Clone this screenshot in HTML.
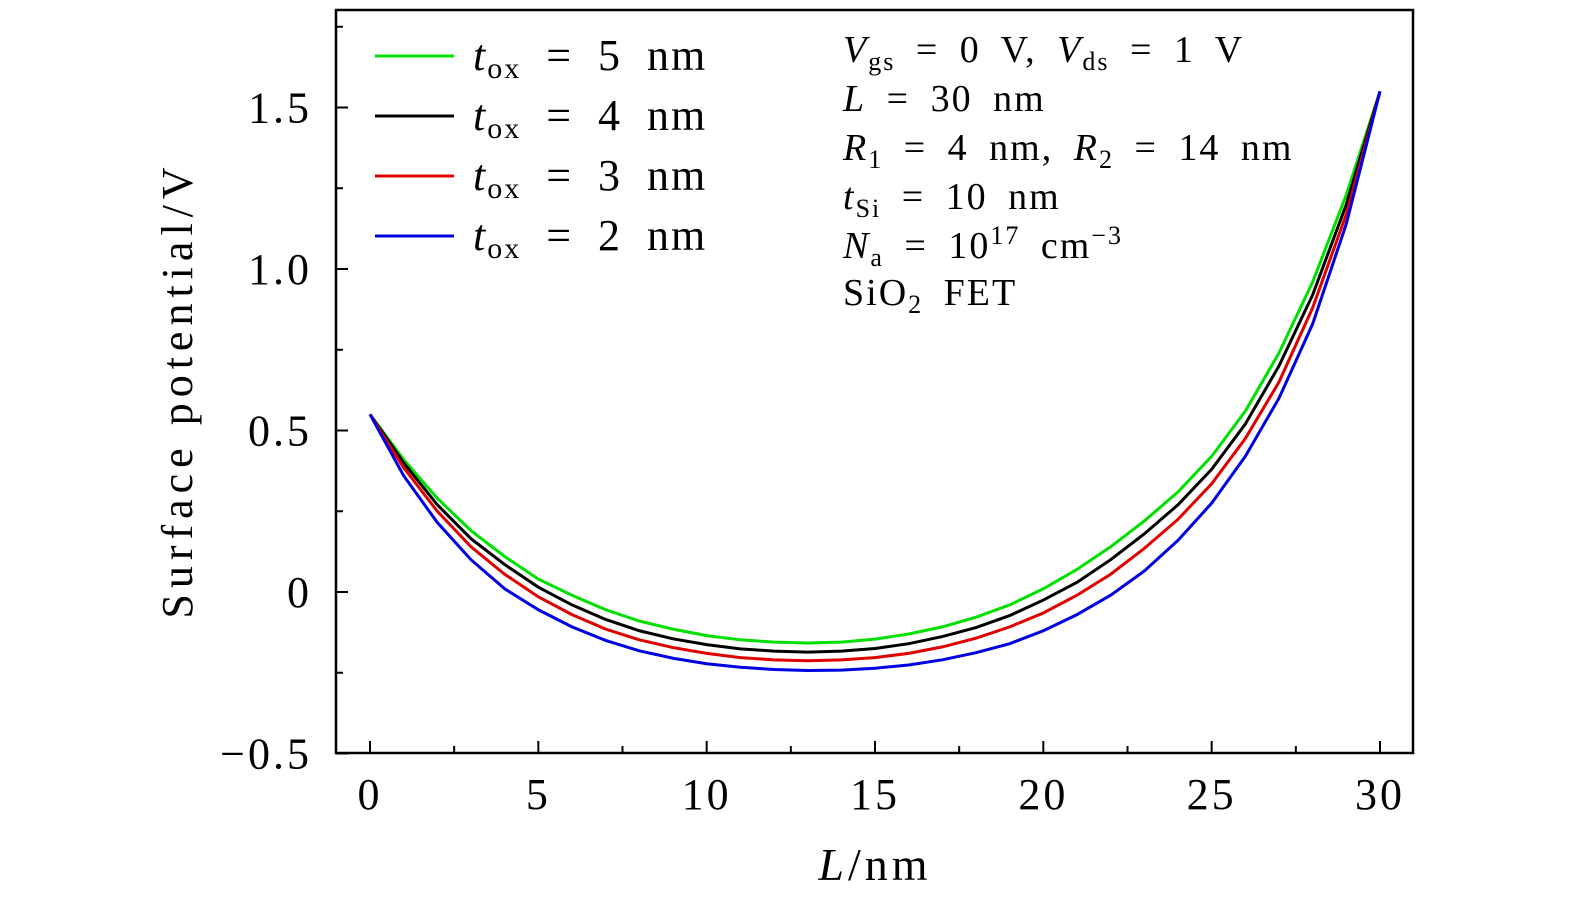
<!DOCTYPE html>
<html><head><meta charset="utf-8"><style>
body{margin:0;background:#fff}
svg text{font-family:"Liberation Serif",serif;fill:#000}
</style></head><body>
<svg id="chart" width="1575" height="906" xmlns="http://www.w3.org/2000/svg">
<g id="marks"></g>
<rect x="336" y="10" width="1077" height="743" fill="none" stroke="#000" stroke-width="2.5"/>
<g id="ticks"></g>
<text transform="translate(192,390) rotate(-90)" text-anchor="middle" font-size="44" letter-spacing="6">Surface potential/V</text>
<text x="875" y="880" text-anchor="middle" font-size="46" letter-spacing="4"><tspan font-style="italic">L</tspan>/nm</text>
<g font-size="44" word-spacing="12" letter-spacing="2">
<line x1="375" y1="56" x2="454" y2="56" stroke="#00e000" stroke-width="3"/>
<text x="473" y="70"><tspan font-style="italic">t</tspan><tspan font-size="30" dy="8">ox</tspan><tspan dy="-8"> = 5 nm</tspan></text>
<line x1="375" y1="116" x2="454" y2="116" stroke="#000" stroke-width="3"/>
<text x="473" y="130"><tspan font-style="italic">t</tspan><tspan font-size="30" dy="8">ox</tspan><tspan dy="-8"> = 4 nm</tspan></text>
<line x1="375" y1="176" x2="454" y2="176" stroke="#e00000" stroke-width="3"/>
<text x="473" y="190"><tspan font-style="italic">t</tspan><tspan font-size="30" dy="8">ox</tspan><tspan dy="-8"> = 3 nm</tspan></text>
<line x1="375" y1="236" x2="454" y2="236" stroke="#0000e0" stroke-width="3"/>
<text x="473" y="250"><tspan font-style="italic">t</tspan><tspan font-size="30" dy="8">ox</tspan><tspan dy="-8"> = 2 nm</tspan></text>
</g>
<g font-size="38" word-spacing="9" letter-spacing="2">
<text x="843" y="62"><tspan font-style="italic">V</tspan><tspan font-size="26" dy="8">gs</tspan><tspan dy="-8"> = 0 V, </tspan><tspan font-style="italic">V</tspan><tspan font-size="26" dy="8">ds</tspan><tspan dy="-8"> = 1 V</tspan></text>
<text x="843" y="111"><tspan font-style="italic">L</tspan> = 30 nm</text>
<text x="843" y="160"><tspan font-style="italic">R</tspan><tspan font-size="26" dy="8">1</tspan><tspan dy="-8"> = 4 nm, </tspan><tspan font-style="italic">R</tspan><tspan font-size="26" dy="8">2</tspan><tspan dy="-8"> = 14 nm</tspan></text>
<text x="843" y="209"><tspan font-style="italic">t</tspan><tspan font-size="26" dy="8">Si</tspan><tspan dy="-8"> = 10 nm</tspan></text>
<text x="843" y="258"><tspan font-style="italic">N</tspan><tspan font-size="26" dy="8">a</tspan><tspan dy="-8"> = 10</tspan><tspan font-size="26" dy="-14">17</tspan><tspan dy="14"> cm</tspan><tspan font-size="26" dy="-14">−3</tspan></text>
<text x="843" y="305">SiO<tspan font-size="26" dy="8">2</tspan><tspan dy="-8"> FET</tspan></text>
</g>
</svg>
<script>
const xValues=[0,1,2,3,4,5,6,7,8,9,10,11,12,13,14,15,16,17,18,19,20,21,22,23,24,25,26,27,28,29,30];
const tox5=[0.55,0.41,0.29,0.19,0.11,0.04,-0.01,-0.055,-0.09,-0.115,-0.135,-0.148,-0.155,-0.158,-0.155,-0.146,-0.13,-0.108,-0.078,-0.04,0.01,0.07,0.14,0.22,0.31,0.42,0.56,0.74,0.96,1.23,1.55];
const tox4=[0.55,0.40,0.27,0.165,0.085,0.015,-0.04,-0.085,-0.12,-0.145,-0.163,-0.176,-0.183,-0.186,-0.183,-0.175,-0.16,-0.138,-0.11,-0.073,-0.025,0.03,0.1,0.18,0.27,0.38,0.52,0.7,0.92,1.2,1.55];
const tox3=[0.55,0.385,0.25,0.14,0.055,-0.015,-0.07,-0.115,-0.148,-0.172,-0.19,-0.203,-0.21,-0.213,-0.21,-0.203,-0.19,-0.17,-0.143,-0.108,-0.065,-0.01,0.055,0.135,0.225,0.335,0.475,0.65,0.88,1.17,1.55];
const tox2=[0.55,0.36,0.215,0.1,0.01,-0.055,-0.108,-0.15,-0.182,-0.205,-0.222,-0.233,-0.24,-0.243,-0.242,-0.236,-0.226,-0.21,-0.188,-0.16,-0.12,-0.07,-0.01,0.065,0.16,0.275,0.42,0.6,0.83,1.14,1.55];
const xTicks=[0,5,10,15,20,25,30];
const xTickLabels=["0","5","10","15","20","25","30"];
const yTicks=[-0.5,0,0.5,1.0,1.5];
const yTickLabels=["−0.5","0","0.5","1.0","1.5"];
const xs=v=>370+v*(1010/30);
const ys=v=>592-v*323;
const NS="http://www.w3.org/2000/svg";
const marks=document.getElementById('marks'),ticks=document.getElementById('ticks');
function mk(t,a,p){const e=document.createElementNS(NS,t);for(const k in a)e.setAttribute(k,a[k]);p.appendChild(e);return e;}
[[tox5,'#00e000','series-tox-5nm'],[tox4,'#000000','series-tox-4nm'],[tox3,'#e00000','series-tox-3nm'],[tox2,'#0000e0','series-tox-2nm']].forEach(([d,c,n])=>{
 const p=mk('polyline',{points:d.map((v,i)=>xs(xValues[i])+','+ys(v)).join(' '),fill:'none',stroke:c,'stroke-width':3},marks);
 
 
});
xTicks.forEach((t,i)=>{
 const l=mk('line',{x1:xs(t),x2:xs(t),y1:753,y2:741,stroke:'#000','stroke-width':2},ticks);
 
 
 if(i<xTicks.length-1){const m=mk('line',{x1:xs(t+2.5),x2:xs(t+2.5),y1:753,y2:746,stroke:'#000','stroke-width':2},ticks);
 
 }
 const tx=mk('text',{x:xs(t),y:809,'text-anchor':'middle','font-size':44,'letter-spacing':3},ticks);tx.textContent=xTickLabels[i];
 
 
});
yTicks.forEach((t,i)=>{
 const l=mk('line',{x1:336,x2:348,y1:ys(t),y2:ys(t),stroke:'#000','stroke-width':2},ticks);
 
 
 const m=mk('line',{x1:336,x2:343,y1:ys(t+0.25),y2:ys(t+0.25),stroke:'#000','stroke-width':2},ticks);
 
 
 const tx=mk('text',{x:312,y:ys(t)+15,'text-anchor':'end','font-size':44,'letter-spacing':3},ticks);tx.textContent=yTickLabels[i];
 
 
});
</script>
</body></html>
